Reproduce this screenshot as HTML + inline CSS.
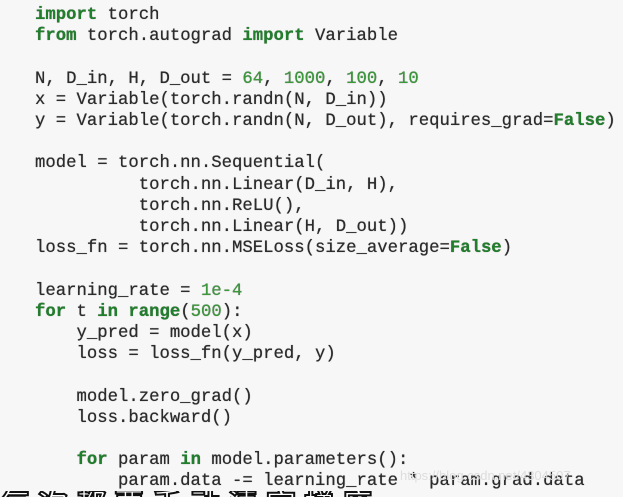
<!DOCTYPE html>
<html><head><meta charset="utf-8"><style>
html,body{margin:0;width:623px;height:497px;overflow:hidden}
body{background:#f7f7f7}
#f{position:relative;width:623px;height:497px;overflow:hidden}
pre{margin:0;position:absolute;left:35px;top:5px;font-family:"Liberation Mono",monospace;font-size:17.3px;line-height:21.2px;color:#2b2b2b;text-shadow:0 0 0.6px #2b2b2b}
.k{color:#1f7f2a;font-weight:bold}
.n{color:#3a9a3a}
.sub{position:absolute;left:0;top:491px;height:6px;overflow:hidden;font-family:"Liberation Sans","Noto Sans CJK SC",sans-serif;font-size:30px;line-height:30px;font-weight:bold;color:#fff;-webkit-text-stroke:2px #111;white-space:nowrap;letter-spacing:8px}
.wm{position:absolute;left:400px;top:468px;font-family:"Liberation Sans",sans-serif;font-size:13px;color:#ddd}
</style></head><body><div id="f">
<pre><span class="k">import</span> torch
<span class="k">from</span> torch.autograd <span class="k">import</span> Variable

N, D_in, H, D_out = <span class="n">64</span>, <span class="n">1000</span>, <span class="n">100</span>, <span class="n">10</span>
x = Variable(torch.randn(N, D_in))
y = Variable(torch.randn(N, D_out), requires_grad=<span class="k">False</span>)

model = torch.nn.Sequential(
          torch.nn.Linear(D_in, H),
          torch.nn.ReLU(),
          torch.nn.Linear(H, D_out))
loss_fn = torch.nn.MSELoss(size_average=<span class="k">False</span>)

learning_rate = <span class="n">1e-4</span>
<span class="k">for</span> t <span class="k">in</span> <span class="k">range</span>(<span class="n">500</span>):
    y_pred = model(x)
    loss = loss_fn(y_pred, y)

    model.zero_grad()
    loss.backward()

    <span class="k">for</span> param <span class="k">in</span> model.parameters():
        param.data -= learning_rate * param.grad.data</pre>
<div class="wm">https://blog.csdn.net/4304507</div>
<div class="sub">每次都要手动清空梯度</div>
</div></body></html>
